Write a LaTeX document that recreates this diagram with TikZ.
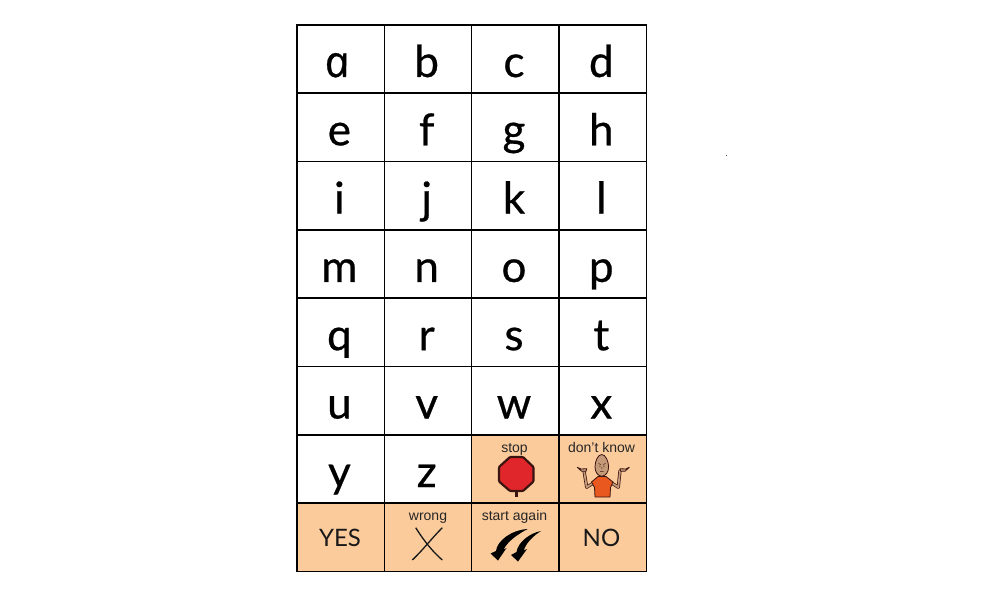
\documentclass[tikz,border=0pt]{standalone}
\usepackage{fontspec}
\setmainfont{Liberation Sans}
\newfontfamily\letterfont[FakeBold=0.6]{Lato}
\newfontfamily\bigfont{Lato}
\newfontface\afont[FakeSlant=-0.2,FakeBold=0.6]{Open Sans Italic}
\definecolor{peach}{HTML}{FBCB9C}
\definecolor{skin}{HTML}{C49A78}
\definecolor{shirt}{HTML}{E9591F}
\definecolor{stopred}{HTML}{E0262A}
\definecolor{darkline}{HTML}{3A1410}
\tikzset{
  cellbox/.style={draw=black,line width=1.5pt,minimum width=87.3pt,minimum height=68.3pt,inner sep=0pt,outer sep=0pt},
  peachbox/.style={cellbox,fill=peach},
  letter/.style={anchor=base,inner sep=0pt,font=\letterfont\fontsize{44}{44}\selectfont,text=black},
  word/.style={anchor=base,inner sep=0pt,font=\fontsize{14}{14}\selectfont,text=black!85},
  big/.style={anchor=base,inner sep=0pt,font=\bigfont\fontsize{24}{24}\selectfont,text=black!90},
  outline/.style={draw=darkline,line width=.8pt,line join=round},
}
\begin{document}
\begin{tikzpicture}[x=1pt,y=-1pt]
\useasboundingbox (0,0) rectangle (998,610);
\fill[white] (0,0) rectangle (998,610);
\def\colx{{340.7,428,515.3,602.6}}
\foreach \A/\B/\C/\D [count=\ri from 0] in {{\afont a}/b/c/d,e/f/g/h,i/j/k/l,m/n/o/p,q/r/s/t,u/v/w/x}{
  \foreach \t [count=\ci from 0] in {\A,\B,\C,\D}{
    \pgfmathsetmacro{\cx}{\colx[\ci]}
    \pgfmathsetmacro{\cy}{59+68.3*\ri}
    \node[cellbox] (cell\ri\ci) at (\cx,\cy) {};
    \node[letter] (let\ri\ci) at (\cx-1.3,\cy+18) {\t};
  }
}
\node[cellbox] (celly) at (340.7,469) {};
\node[letter] (lety) at (339.4,487) {y};
\node[cellbox] (cellz) at (428,469) {};
\node[letter] (letz) at (426.7,487) {z};
\node[peachbox] (cellstop) at (515.3,469) {};
\node[peachbox] (cellknow) at (602.6,469) {};
\node[peachbox] (cellyes) at (340.7,537.3) {};
\node[peachbox] (cellwrong) at (428,537.3) {};
\node[peachbox] (cellagain) at (515.3,537.3) {};
\node[peachbox] (cellno) at (602.6,537.3) {};
\node[big] (yes) at (340,546) {YES};
\node[big] (no) at (601.5,546) {NO};
\node[word] (wstop) at (514.5,452.5) {stop};
\node[word] (wknow) at (601.5,452.5) {don't know};
\node[word] (wwrong) at (428,520.5) {wrong};
\node[word] (wagain) at (514.5,520.5) {start again};
% wrong cross
\draw[line width=1.3pt,black!90] (415.7,527.7) .. controls (424,541) and (433,552) .. (442.3,560);
\draw[line width=1.3pt,black!90] (442.3,527.7) .. controls (432,538) and (422,551) .. (412.3,560);
% stop sign
\fill[darkline] (514.6,490) rectangle (518.4,497);
\draw[line width=2.2pt,draw=darkline,fill=stopred,line join=round,rounded corners=1pt]
  (510,457) -- (523,457) -- (533.5,467) -- (533.5,481.5) -- (523,491) -- (510,491) -- (499,481.5) -- (499,467) -- cycle;
% start again arrows
\fill[black] (527.7,529) .. controls (518,534) and (508,541) .. (503.5,549.5)
    -- (506.5,548) -- (498,560.5) -- (490.5,553.5) -- (496,551)
    .. controls (497,541) and (511,530) .. cycle;
\fill[black] (541,531) .. controls (533,536) and (526,543) .. (523.8,550.5)
    -- (527,549) -- (518,561.5) -- (511,555) -- (516.5,552)
    .. controls (518,542) and (530,533) .. cycle;
% don't know figure
\draw[darkline,line width=3.2pt,line join=round,line cap=round] (584,470.7) -- (586.7,487.3) -- (593.3,483);
\draw[darkline,line width=3.2pt,line join=round,line cap=round] (620,470.7) -- (618.3,487.3) -- (611.7,483);
\draw[skin,line width=1.8pt,line join=round,line cap=round] (584,470.7) -- (586.7,487.3) -- (593.3,483);
\draw[skin,line width=1.8pt,line join=round,line cap=round] (620,470.7) -- (618.3,487.3) -- (611.7,483);
\draw[outline,fill=skin] (577.3,467.3) -- (581,469) -- (586.7,468.7) -- (586,471.3) -- (581.7,471.3) -- cycle;
\draw[outline,fill=skin] (629.3,467.3) -- (625.6,469) -- (620,468.7) -- (620.7,471.3) -- (625,471.3) -- cycle;
\draw[outline,fill=shirt] (598,476.5) -- (591.5,482) -- (594.5,487.5) -- (595,497) -- (610,497) -- (610.5,487.5) -- (613,482) -- (606,476.5) -- cycle;
\draw[outline,fill=skin] (601.7,454.5) .. controls (605.5,454.5) and (608.4,461) .. (608.6,466.5)
  .. controls (608.8,472) and (605.5,476.2) .. (601.7,476.2)
  .. controls (598,476.2) and (594.8,472) .. (595,466.5)
  .. controls (595.2,461) and (598,454.5) .. (601.7,454.5) -- cycle;
\draw[darkline,line width=.5pt] (598.5,463.5) -- (600.8,464.5) (605.5,463.5) -- (603,464.5)
  (599,466) -- (600.5,466) (603.2,466) -- (604.8,466) (601.8,467) -- (601.8,469) (600,471.5) -- (603.6,471.5);
% stray speck
\fill[black!70] (725.6,154.6) rectangle (726.8,155.6);
\end{tikzpicture}
\end{document}
